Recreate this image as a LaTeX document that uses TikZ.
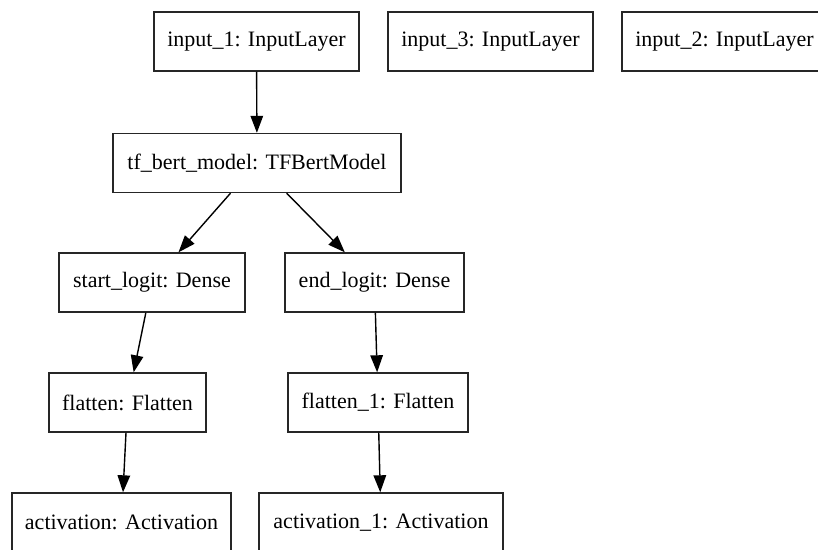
\documentclass[tikz,border=0pt]{standalone}
\usepackage{fontspec}
\setmainfont{Liberation Serif}
\usetikzlibrary{arrows.meta}
\tikzset{
    x=1pt, y=-1pt, % one unit is one pixel of the layout
    }

\begin{document}
\begin{tikzpicture}[
layernode/.style={rectangle, draw=black!85, line width=1.4pt, minimum height=59pt, inner sep=0pt, font=\fontsize{22}{26}\selectfont},
flow/.style={line width=1.4pt, -{Triangle[length=17pt, width=12.5pt]}},
]
\path[use as bounding box, clip] (0,0) rectangle (818,549);

\node[layernode, minimum width=205pt] (in1) at (256.5,41.5) {input\_1: InputLayer};
\node[layernode, minimum width=205pt] (in3) at (490.5,41.5) {input\_3: InputLayer};
\node[layernode, minimum width=205pt] (in2) at (724.5,41.5) {input\_2: InputLayer};
\node[layernode, minimum width=288pt] (bert) at (257,163) {tf\_bert\_model: TFBertModel};
\node[layernode, minimum width=186pt] (startl) at (152,282.5) {start\_logit: Dense};
\node[layernode, minimum width=179pt] (endl) at (374.5,282.5) {end\_logit: Dense};
\node[layernode, minimum width=157pt] (flat) at (127.5,402.5) {flatten: Flatten};
\node[layernode, minimum width=180pt] (flat1) at (378,402.5) {flatten\_1: Flatten};
\node[layernode, minimum width=219pt] (act) at (121.5,522.5) {activation: Activation};
\node[layernode, minimum width=244pt] (act1) at (381,522.5) {activation\_1: Activation};

\draw[flow] (in1) -- (bert);
\draw[flow] (bert) -- (startl);
\draw[flow] (bert) -- (endl);
\draw[flow] (startl) -- (flat);
\draw[flow] (endl) -- (flat1);
\draw[flow] (flat) -- (act);
\draw[flow] (flat1) -- (act1);
\end{tikzpicture}
\end{document}
